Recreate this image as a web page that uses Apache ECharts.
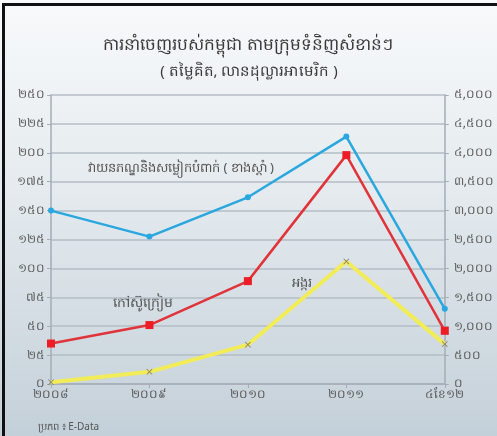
<!DOCTYPE html>
<html>
<head>
<meta charset="utf-8">
<script src="https://cdn.jsdelivr.net/npm/echarts@6/dist/echarts.min.js"></script>
<style>
  html, body { margin: 0; padding: 0; }
  #chart { width: 497px; height: 436px; }
</style>
</head>
<body>
<div id="chart"></div>
<script>
// categories (Khmer years, last one = first 4 months of 2012)
const years = ['២០០៨', '២០០៩', '២០១០', '២០១១', '៤ខែ១២']
// garments & textiles, right axis (million USD)
const garments = [3000, 2550, 3230, 4280, 1300]
// rubber, left axis
const rubber = [35, 51, 89, 198, 46]
// rice, left axis
const rice = [1.5, 10.5, 34, 106, 34.5]

const leftTicks = ['០', '២៥', '៥០', '៧៥', '១០០', '១២៥', '១៥០', '១៧៥', '២០០', '២២៥', '២៥០']
const rightTicks = ['០', '៥០០', '១,០០០', '១,៥០០', '២,០០០', '២,៥០០', '៣,០០០', '៣,៥០០', '៤,០០០', '៤,៥០០', '៥,០០០']

const font = "'Noto Sans', 'DejaVu Sans', sans-serif"
const chart = echarts.init(document.getElementById('chart'))

// small "x" marker used on the rice line
const xMark = 'path://M0,1L1,0L5,4L9,0L10,1L6,5L10,9L9,10L5,6L1,10L0,9L4,5Z'

const option = {
  backgroundColor: {
    type: 'linear', x: 0, y: 0, x2: 0, y2: 1,
    colorStops: [
      { offset: 0, color: '#f8fafb' },
      { offset: 0.45, color: '#e4eaee' },
      { offset: 1, color: '#c4d0d9' }
    ]
  },
  textStyle: { fontFamily: font },
  graphic: [
    // black frame on left and top
    { type: 'rect', shape: { x: 2, y: 3, width: 3, height: 433 }, style: { fill: '#111' } },
    { type: 'rect', shape: { x: 2, y: 3, width: 495, height: 3 }, style: { fill: '#111' } },
    { type: 'text', x: 248, y: 45, style: { text: 'ការនាំចេញរបស់កម្ពុជា តាមក្រុមទំនិញសំខាន់ៗ', fill: '#3a3a3a', font: '17px ' + font, align: 'center', verticalAlign: 'middle' } },
    { type: 'text', x: 249, y: 72, style: { text: '( តម្លៃគិត, លានដុល្លារអាមេរិក )', fill: '#3a3a3a', font: '15px ' + font, align: 'center', verticalAlign: 'middle' } },
    // series names written inside the plot
    { type: 'text', x: 88, y: 168, style: { text: 'វាយនភណ្ឌនិងសម្លៀកបំពាក់ ( ខាងស្តាំ )', fill: '#555', font: '13px ' + font, verticalAlign: 'middle' } },
    { type: 'text', x: 113, y: 303, style: { text: 'កៅស៊ូក្រៀម', fill: '#555', font: '14px ' + font, verticalAlign: 'middle' } },
    { type: 'text', x: 292, y: 283, style: { text: 'អង្ករ', fill: '#555', font: '13px ' + font, verticalAlign: 'middle' } },
    { type: 'text', x: 38, y: 427, style: { text: 'ប្រភព ៖ E-Data', fill: '#555', font: '10px ' + font, verticalAlign: 'middle' } }
  ],
  grid: { left: 51, right: 51, top: 95, bottom: 52 },
  xAxis: {
    type: 'category',
    data: years,
    boundaryGap: false,
    axisLine: { lineStyle: { color: '#a4adb5', width: 1.5 } },
    axisTick: { show: true, length: 4, lineStyle: { color: '#a4adb5' } },
    axisLabel: { color: '#5a5a5a', fontSize: 12, margin: 5 }
  },
  yAxis: [
    {
      type: 'value', min: 0, max: 250, interval: 25,
      axisLine: { show: true, lineStyle: { color: '#a4adb5', width: 1.5 } },
      axisTick: { show: true, length: 4, lineStyle: { color: '#a4adb5' } },
      splitLine: { lineStyle: { color: '#b4bcc4', width: 1.5 } },
      axisLabel: { color: '#5a5a5a', fontSize: 12, margin: 6, formatter: v => leftTicks[Math.round(v / 25)] }
    },
    {
      type: 'value', min: 0, max: 5000, interval: 500,
      axisLine: { show: true, lineStyle: { color: '#a4adb5', width: 1.5 } },
      axisTick: { show: true, length: 4, lineStyle: { color: '#a4adb5' } },
      splitLine: { show: false },
      axisLabel: { color: '#5a5a5a', fontSize: 12, margin: 9, formatter: v => rightTicks[Math.round(v / 500)] }
    }
  ],
  series: [
    {
      name: 'rice', type: 'line', data: rice, yAxisIndex: 0,
      symbol: xMark, symbolSize: 6,
      lineStyle: { color: '#f2ec58', width: 4 },
      itemStyle: { color: '#8c7f6e' },
      z: 2
    },
    {
      name: 'rubber', type: 'line', data: rubber, yAxisIndex: 0,
      symbol: 'rect', symbolSize: 8,
      lineStyle: { color: '#e0343a', width: 2.5 },
      itemStyle: { color: '#ee1c24' },
      z: 3
    },
    {
      name: 'garments', type: 'line', data: garments, yAxisIndex: 1,
      symbol: 'circle', symbolSize: 6,
      lineStyle: { color: '#2aa7df', width: 2.5 },
      itemStyle: { color: '#2aa7df' },
      z: 4
    }
  ]
}

chart.setOption(option)
</script>
</body>
</html>
